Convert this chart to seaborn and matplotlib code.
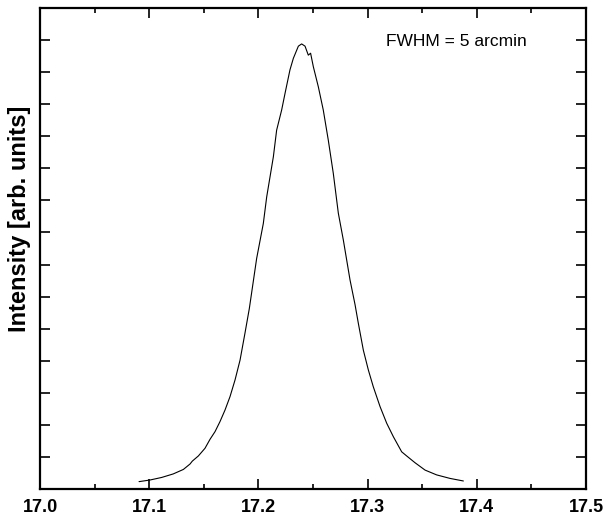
import matplotlib
matplotlib.use("Agg")
import matplotlib.pyplot as plt
from matplotlib.ticker import MultipleLocator, NullFormatter
import seaborn as sns
import pandas as pd

angle = [17.0907, 17.1007, 17.1114, 17.122, 17.1313, 17.1374, 17.1395, 17.145, 17.1511,
         17.1557, 17.1603, 17.1648, 17.1694, 17.174, 17.1786, 17.1832, 17.1877, 17.1917,
         17.1984, 17.2045, 17.2076, 17.2137, 17.2167, 17.2213, 17.2244, 17.2289, 17.232,
         17.2366, 17.2396, 17.2427, 17.2457, 17.2478, 17.2503, 17.2549, 17.2594, 17.264,
         17.2686, 17.2732, 17.2778, 17.2839, 17.2885, 17.2915, 17.2961, 17.3007, 17.3052,
         17.3114, 17.3175, 17.3236, 17.3312, 17.3358, 17.3434, 17.3526, 17.3632, 17.3755,
         17.3877]
intensity = [0.23, 0.28, 0.36, 0.47, 0.61, 0.78, 0.87, 1.03, 1.27,
             1.55, 1.79, 2.10, 2.46, 2.88, 3.40, 4.02, 4.86, 5.63,
             7.19, 8.28, 9.11, 10.36, 11.19, 11.82, 12.34, 13.07, 13.43,
             13.81, 13.88, 13.81, 13.53, 13.59, 13.17, 12.54, 11.82, 10.88,
             9.84, 8.60, 7.76, 6.52, 5.75, 5.17, 4.33, 3.71, 3.19,
             2.57, 2.05, 1.63, 1.16, 1.03, 0.82, 0.59, 0.44, 0.33,
             0.25]
x_ticks = [17.0, 17.1, 17.2, 17.3, 17.4, 17.5]
x_tick_labels = ["17.0", "17.1", "17.2", "17.3", "17.4", "17.5"]
annotation = "FWHM = 5 arcmin"
y_label = "Intensity [arb. units]"

sns.set_style("ticks")
plt.rcParams["font.family"] = ["Liberation Sans", "DejaVu Sans"]
for k in ["text.color", "axes.labelcolor", "xtick.color", "ytick.color", "axes.edgecolor"]:
    plt.rcParams[k] = "black"

df = pd.DataFrame({"angle": angle, "intensity": intensity})

fig = plt.figure(figsize=(6.06, 5.22), dpi=100)
ax = fig.add_axes([40 / 606, 1 - 489 / 522, 546 / 606, 481 / 522])
sns.lineplot(data=df, x="angle", y="intensity", color="black", linewidth=0.8, ax=ax)

ax.set_xlim(17.0, 17.5)
ax.set_ylim(0, 15)
ax.set_xticks(x_ticks)
ax.set_xticklabels(x_tick_labels, fontsize=13, fontweight="bold")
ax.xaxis.set_minor_locator(MultipleLocator(0.05))
ax.yaxis.set_major_locator(MultipleLocator(1))
ax.yaxis.set_major_formatter(NullFormatter())
ax.tick_params(axis="both", which="major", direction="in", top=True, right=True,
               length=7, width=1.2, color="black")
ax.tick_params(axis="x", which="minor", direction="in", top=True, length=3.5, width=1.2)
ax.tick_params(axis="x", which="major", pad=7)
for s in ax.spines.values():
    s.set_linewidth(1.6)
    s.set_color("black")

ax.set_xlabel("")
ax.set_ylabel(y_label, fontsize=17, fontweight="bold")
ax.yaxis.set_label_coords(-0.016, 0.561)
ax.text(0.634, 0.93, annotation, transform=ax.transAxes, fontsize=12.5, ha="left", va="center")

fig.savefig("out.png", dpi=100)
